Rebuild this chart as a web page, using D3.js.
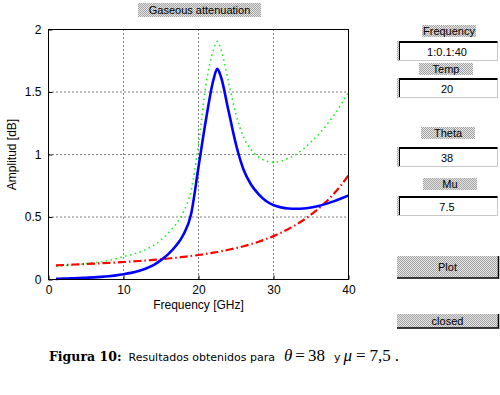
<!DOCTYPE html>
<html>
<head>
<meta charset="utf-8">
<script src="https://cdn.jsdelivr.net/npm/d3@7/dist/d3.min.js"></script>
<style>
  body { margin: 0; background: #fff; }
  svg { display: block; font-family: "Liberation Sans", Arial, sans-serif; }
</style>
</head>
<body>
<div id="chart"></div>
<script>
// Frequencies in GHz
const freq = [1, 2, 3, 4, 5, 6, 7, 8, 9, 10, 11, 12, 13, 14, 15, 16, 17, 18, 19, 20,
  21, 22, 22.5, 23, 24, 25, 26, 27, 28, 29, 30, 31, 32, 33, 34, 35, 36, 37, 38, 39, 40];

// water vapour (blue, solid)
const water = [0.005, 0.007, 0.009, 0.011, 0.014, 0.017, 0.021, 0.026, 0.033, 0.042,
  0.053, 0.068, 0.088, 0.115, 0.155, 0.205, 0.27, 0.36, 0.52, 0.9,
  1.28, 1.6, 1.685, 1.62, 1.35, 1.08, 0.88, 0.76, 0.683, 0.628,
  0.595, 0.577, 0.568, 0.566, 0.568, 0.576, 0.588, 0.605, 0.625, 0.648, 0.672];

// oxygen (red, dash-dot)
const oxygen = [0.113, 0.116, 0.119, 0.121, 0.124, 0.127, 0.13, 0.133, 0.136, 0.14,
  0.144, 0.148, 0.152, 0.157, 0.162, 0.168, 0.174, 0.181, 0.188, 0.196,
  0.205, 0.215, 0.22, 0.226, 0.238, 0.251, 0.266, 0.283, 0.302, 0.323,
  0.347, 0.374, 0.404, 0.438, 0.476, 0.519, 0.567, 0.621, 0.683, 0.753, 0.835];

// total (green, dotted)
const total = [0.104, 0.11, 0.115, 0.12, 0.127, 0.134, 0.142, 0.152, 0.165, 0.185,
  0.198, 0.216, 0.24, 0.272, 0.317, 0.373, 0.444, 0.541, 0.708, 1.08,
  1.56, 1.84, 1.905, 1.84, 1.58, 1.32, 1.14, 1.04, 0.98, 0.948,
  0.937, 0.947, 0.97, 1.0, 1.045, 1.1, 1.16, 1.23, 1.31, 1.4, 1.5];

const xTicks = [0, 10, 20, 30, 40];
const yTicks = [0, 0.5, 1, 1.5, 2];

const fieldLabels = ["Frequency", "Temp", "Theta", "Mu"];
const fieldValues = ["1:0.1:40", "20", "38", "7.5"];
const buttonLabels = ["Plot", "closed"];

const W = 500, H = 395;
const margin = { top: 29.5, left: 48.5 };
const width = 300, height = 250;

const svg = d3.select("#chart").append("svg")
  .attr("width", W)
  .attr("height", H);

// stippled grey used by the uicontrols
const pat = svg.append("defs").append("pattern")
  .attr("id", "stipple")
  .attr("width", 2).attr("height", 2)
  .attr("patternUnits", "userSpaceOnUse");
pat.append("rect").attr("width", 2).attr("height", 2).attr("fill", "#e4e4e4");
pat.append("rect").attr("width", 1).attr("height", 1).attr("fill", "#a4a4a4");
pat.append("rect").attr("x", 1).attr("y", 1).attr("width", 1).attr("height", 1).attr("fill", "#a4a4a4");

// title box
svg.append("rect")
  .attr("x", 138).attr("y", 3).attr("width", 123).attr("height", 14)
  .attr("fill", "url(#stipple)");
svg.append("text")
  .attr("x", 199.5).attr("y", 14)
  .attr("text-anchor", "middle")
  .attr("font-size", 11)
  .text("Gaseous attenuation");

// scales
const x = d3.scaleLinear().domain([0, 40]).range([margin.left, margin.left + width]);
const y = d3.scaleLinear().domain([0, 2]).range([margin.top + height, margin.top]);

// grid lines
const grid = svg.append("g");
grid.selectAll(".gx")
  .data(xTicks.slice(1, -1))
  .enter().append("line")
  .attr("x1", d => x(d)).attr("x2", d => x(d))
  .attr("y1", margin.top).attr("y2", margin.top + height)
  .attr("stroke", "#000").attr("stroke-width", 1)
  .attr("stroke-dasharray", "1,3");
grid.selectAll(".gy")
  .data(yTicks.slice(1, -1))
  .enter().append("line")
  .attr("y1", d => y(d)).attr("y2", d => y(d))
  .attr("x1", margin.left).attr("x2", margin.left + width)
  .attr("stroke", "#000").attr("stroke-width", 1)
  .attr("stroke-dasharray", "1,3");

// axes (ticks point inward)
const xAxis = svg.append("g")
  .attr("transform", `translate(0,${margin.top + height})`)
  .call(d3.axisBottom(x).tickValues(xTicks).tickSize(-4).tickPadding(6)
    .tickFormat(d3.format("~g")));
const yAxis = svg.append("g")
  .attr("transform", `translate(${margin.left},0)`)
  .call(d3.axisLeft(y).tickValues(yTicks).tickSize(-4).tickPadding(7)
    .tickFormat(d3.format("~g")));
[xAxis, yAxis].forEach(g => {
  g.select(".domain").remove();
  g.selectAll("text").attr("font-size", 12).attr("font-family", "Liberation Sans, Arial, sans-serif").attr("fill", "#000");
  g.selectAll("line").attr("stroke", "#000");
});

// curves
const line = (vals) => d3.line()
  .x((d, i) => x(freq[i]))
  .y(d => y(d))
  .curve(d3.curveMonotoneX)(vals);

svg.append("path")
  .attr("d", line(total))
  .attr("fill", "none")
  .attr("stroke", "#22ee22")
  .attr("stroke-width", 1.6)
  .attr("stroke-dasharray", "1.6,3.4");

svg.append("path")
  .attr("d", line(oxygen))
  .attr("fill", "none")
  .attr("stroke", "#ff0000")
  .attr("stroke-width", 2.2)
  .attr("stroke-dasharray", "8,3,1.5,3");

svg.append("path")
  .attr("d", line(water))
  .attr("fill", "none")
  .attr("stroke", "#0000ff")
  .attr("stroke-width", 2.6);

// frame
svg.append("rect")
  .attr("x", margin.left).attr("y", margin.top)
  .attr("width", width).attr("height", height)
  .attr("fill", "none").attr("stroke", "#000").attr("stroke-width", 1);

// axis labels
svg.append("text")
  .attr("x", margin.left + width / 2).attr("y", 309)
  .attr("text-anchor", "middle")
  .attr("font-size", 12)
  .text("Frequency [GHz]");
svg.append("text")
  .attr("transform", `translate(16,${margin.top + height / 2}) rotate(-90)`)
  .attr("text-anchor", "middle")
  .attr("font-size", 12)
  .text("Amplitud [dB]");

// right panel: label boxes + edit boxes
const labelX = [422, 419, 421, 423];
const labelY = [25, 63, 127, 178];
const editY = [41, 78, 147, 196];

const panel = svg.append("g");
fieldLabels.forEach((lab, i) => {
  panel.append("rect")
    .attr("x", labelX[i]).attr("y", labelY[i]).attr("width", 54).attr("height", 12)
    .attr("fill", "url(#stipple)");
  panel.append("text")
    .attr("x", labelX[i] + 27).attr("y", labelY[i] + 10)
    .attr("text-anchor", "middle").attr("font-size", 11)
    .text(lab);

  const ey = editY[i];
  panel.append("rect")
    .attr("x", 397).attr("y", ey).attr("width", 100).attr("height", 20)
    .attr("fill", "#fff");
  // light lower/right edge
  panel.append("path")
    .attr("d", `M397.5,${ey + 19.5}H497.5V${ey + 0.5}`)
    .attr("fill", "none").attr("stroke", "#c8c8c8");
  // dark top edge
  panel.append("line")
    .attr("x1", 397).attr("x2", 497.5).attr("y1", ey + 1).attr("y2", ey + 1)
    .attr("stroke", "#000").attr("stroke-width", 2);
  // dark left edge
  panel.append("rect")
    .attr("x", 397).attr("y", ey).attr("width", 2).attr("height", 20)
    .attr("fill", "url(#stipple)");
  panel.append("line")
    .attr("x1", 399.5).attr("x2", 399.5).attr("y1", ey + 1).attr("y2", ey + 19)
    .attr("stroke", "#000");
  panel.append("text")
    .attr("x", 447).attr("y", ey + 14.5)
    .attr("text-anchor", "middle").attr("font-size", 11)
    .text(fieldValues[i]);
});

// buttons
const buttonY = [256, 314];
const buttonH = [22, 14];
buttonLabels.forEach((lab, i) => {
  const by = buttonY[i], bh = buttonH[i];
  panel.append("rect")
    .attr("x", 397).attr("y", by).attr("width", 101).attr("height", bh)
    .attr("fill", "url(#stipple)");
  panel.append("path")
    .attr("d", `M397,${by + bh}H498.5V${by}`)
    .attr("fill", "none").attr("stroke", "#000").attr("stroke-width", 1.5);
  panel.append("text")
    .attr("x", 447.5).attr("y", by + bh / 2 + 4)
    .attr("text-anchor", "middle").attr("font-size", 11)
    .text(lab);
});

// caption
const serif = "Liberation Serif, serif";
const sans = "DejaVu Sans, sans-serif";
const cap = svg.append("text")
  .attr("x", 49).attr("y", 361)
  .attr("font-size", 12);
cap.append("tspan")
  .attr("font-family", "DejaVu Serif, serif").attr("font-weight", "bold").attr("font-size", 12.5)
  .text("Figura 10:");
cap.append("tspan")
  .attr("dx", 7)
  .attr("font-family", sans).attr("font-size", 11)
  .text("Resultados obtenidos para");
cap.append("tspan")
  .attr("dx", 9)
  .attr("font-family", serif).attr("font-size", 17)
  .attr("font-style", "italic").text("θ");
cap.append("tspan")
  .attr("dx", 3)
  .attr("font-family", serif).attr("font-size", 17)
  .text("=");
cap.append("tspan")
  .attr("dx", 3)
  .attr("font-family", serif).attr("font-size", 17)
  .text("38");
cap.append("tspan")
  .attr("dx", 9)
  .attr("font-family", sans).attr("font-size", 11)
  .text("y");
cap.append("tspan")
  .attr("dx", 3)
  .attr("font-family", serif).attr("font-size", 17)
  .attr("font-style", "italic").text("μ");
cap.append("tspan")
  .attr("dx", 4)
  .attr("font-family", serif).attr("font-size", 17)
  .text("=");
cap.append("tspan")
  .attr("dx", 4)
  .attr("font-family", serif).attr("font-size", 17)
  .text("7,5");
cap.append("tspan")
  .attr("dx", 4)
  .attr("font-family", serif).attr("font-size", 17)
  .text(".");
</script>
</body>
</html>
